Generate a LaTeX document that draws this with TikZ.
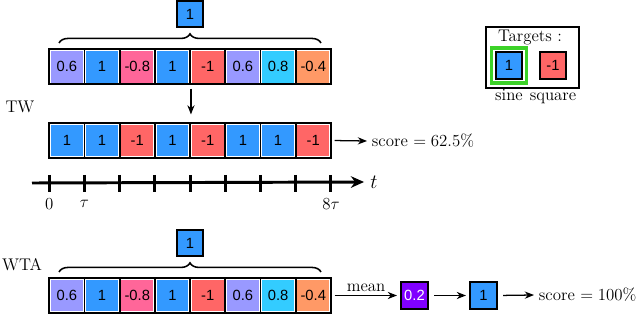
\documentclass[tikz,border=0pt]{standalone}
\usepackage{fontspec}
\newfontfamily\cellfont{Liberation Sans}
\usetikzlibrary{arrows.meta,decorations.pathreplacing}

\definecolor{cpurple}{RGB}{153,153,255}
\definecolor{cblue}{RGB}{51,153,255}
\definecolor{cpink}{RGB}{255,102,153}
\definecolor{cred}{RGB}{255,102,102}
\definecolor{ccyan}{RGB}{51,204,255}
\definecolor{corange}{RGB}{255,153,102}
\definecolor{cviolet}{RGB}{128,0,255}
\definecolor{cgreen}{RGB}{60,210,40}

\begin{document}
\begin{tikzpicture}[
  x=0.025cm, y=-0.025cm,
  cell/.style={draw=black, line width=1.2pt, fill=white, minimum width=0.88cm, minimum height=0.875cm,
    inner sep=0pt, font=\cellfont\fontsize{10.5}{11}\selectfont,
    path picture={\fill[#1] ([shift={(1.2pt,-1.2pt)}]path picture bounding box.north west)
      rectangle ([shift={(-1.2pt,1.2pt)}]path picture bounding box.south east);}},
  sq/.style={draw=black, line width=1.2pt, fill=#1, minimum size=0.66cm, inner sep=0pt,
    font=\cellfont\fontsize{10.5}{11}\selectfont},
  lbl/.style={font=\fontsize{12}{14}\selectfont},
  arr/.style={-{Stealth[length=2.3mm, width=1.8mm]}, line width=0.9pt},
  axis/.style={-{Stealth[length=3.3mm, width=2.9mm]}, line width=2.1pt},
  tick/.style={line width=2pt},
  brc/.style={decorate, decoration={brace, amplitude=6.5pt}, line width=1.1pt}
]
\useasboundingbox (0,0) rectangle (640,314);

% time-window rows
\foreach \v/\c [count=\i] in {0.6/cpurple,1/cblue,-0.8/cpink,1/cblue,-1/cred,0.6/cpurple,0.8/ccyan,-0.4/corange}{
  \node[cell=\c] (t\i) at ({66.9+35.2*(\i-1)},66.8) {\v};
  \node[cell=\c] (w\i) at ({66.9+35.2*(\i-1)},295.5) {\v};
}
\foreach \v/\c [count=\i] in {1/cblue,1/cblue,-1/cred,1/cblue,-1/cred,1/cblue,1/cblue,-1/cred}{
  \node[cell=\c] (r\i) at ({66.9+35.2*(\i-1)},140.5) {\v};
}

\node[sq=cblue] (tout) at (190,14) {1};
\node[sq=cblue] (wout) at (190,243) {1};
\draw[brc] (59,43) -- (321,43);
\draw[brc] (59,272) -- (321,272);

\node[lbl] (tw) at (20,107) {TW};
\node[lbl] (wta) at (22,265) {WTA};

\draw[arr] ([yshift=-2.5pt]t4.south east) -- ([yshift=5.5pt]r4.north east);
\node[lbl, anchor=west] (s1) at (367,141) {score~$=62.5\%$};
\draw[arr, shorten <=2pt] (r8.east) -- (s1.west);

% time axis
\coordinate (ax0) at (32,183);
\node[font=\Large] (tl) at (374,182) {$t$};
\draw[axis] (ax0) -- ([xshift=-1pt]tl.west);
\foreach \k in {0,...,8}
  \draw[tick] ({49.3+35.2*\k},175) -- ({49.3+35.2*\k},192);
\node[lbl] (l0) at (49.3,204) {$0$};
\node[lbl] (l1) at (84.5,204) {$\tau$};
\node[lbl] (l8) at (331,204) {$8\tau$};

% winner-take-all
\node[sq=cviolet, text=white] (pm) at (414.5,295.5) {0.2};
\node[sq=cblue] (wb) at (483.5,295.5) {1};
\node[lbl, anchor=west] (s2) at (534,295) {score~$=100\%$};
\draw[arr, shorten <=2pt, shorten >=2.5pt] (w8.east) -- node[lbl, above=-1pt] {mean} (pm.west);
\draw[arr, shorten <=4pt, shorten >=2.5pt] (pm.east) -- (wb.west);
\draw[arr, shorten <=4pt] (wb.east) -- (s2.west);

% targets
\node[draw, line width=0.9pt, minimum width=2.325cm, minimum height=1.525cm] (tbox) at (532.5,57.5) {};
\node[lbl] (ttl) at (530,38) {Targets :};
\node[draw=cgreen, line width=2.3pt, minimum size=0.87cm] (gbox) at (509,65.5) {};
\node[sq=cblue] (tsine) at (509,65.5) {1};
\node[sq=cred] (tsq) at (553,65.5) {-1};
\node[lbl, anchor=base] (lsine) at (509,101) {sine};
\node[lbl, anchor=base] (lsq) at (553,101) {square};
\end{tikzpicture}
\end{document}
